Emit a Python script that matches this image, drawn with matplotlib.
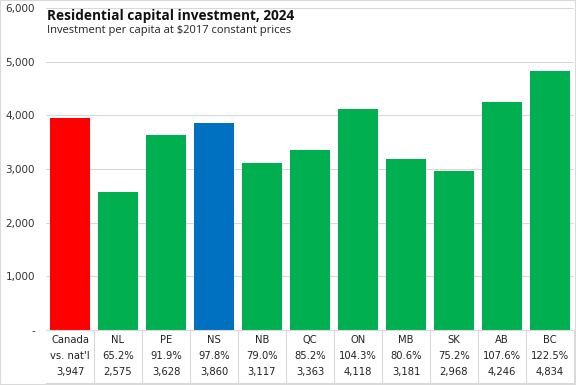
import matplotlib.pyplot as plt
from matplotlib.patches import Rectangle
from matplotlib.transforms import blended_transform_factory

regions = ["Canada", "NL", "PE", "NS", "NB", "QC", "ON", "MB", "SK", "AB", "BC"]
investment = [3947, 2575, 3628, 3860, 3117, 3363, 4118, 3181, 2968, 4246, 4834]
vs_national = ["vs. nat'l", "65.2%", "91.9%", "97.8%", "79.0%", "85.2%",
               "104.3%", "80.6%", "75.2%", "107.6%", "122.5%"]
yticks = [0, 1000, 2000, 3000, 4000, 5000, 6000]

RED = "#FF0000"
GREEN = "#00B050"
BLUE = "#0070C0"
GRID = "#D9D9D9"

colors = [GREEN] * len(regions)
colors[regions.index("Canada")] = RED
colors[regions.index("NS")] = BLUE

W, H = 576, 385
fig = plt.figure(figsize=(W / 100, H / 100), dpi=100)
ax = fig.add_axes([46 / W, 1 - 330 / H, 528 / W, 322 / H])

x = list(range(len(regions)))
ax.bar(x, investment, width=40 / 48, color=colors, zorder=2)

ax.set_xlim(-0.5, len(regions) - 0.5)
ax.set_ylim(0, 6000)
ax.set_yticks(yticks)
ax.set_yticklabels(["-" if v == 0 else f"{v:,}" for v in yticks],
                   fontsize=7.5, color="#333333", family="DejaVu Sans")
ax.tick_params(axis="y", length=0, pad=8)
ax.set_xticks([])
ax.grid(axis="y", color=GRID, linewidth=0.8, zorder=0)
for side in ["top", "right", "left"]:
    ax.spines[side].set_visible(False)
ax.spines["bottom"].set_color(GRID)
ax.spines["bottom"].set_linewidth(0.8)

# table under the bars
trans = blended_transform_factory(ax.transData, fig.transFigure)
rows_y = [1 - 340 / H, 1 - 356 / H, 1 - 372 / H]
values_txt = [f"{v:,}" for v in investment]
for i in x:
    for row, label in zip(rows_y, [regions[i], vs_national[i], values_txt[i]]):
        ax.text(i, row, label, transform=trans, ha="center", va="center",
                fontsize=7.2, color="#222222", family="DejaVu Sans")
for i in range(1, len(regions) + 1):
    ax.plot([i - 0.5, i - 0.5], [1 - 330 / H, 1 - 383 / H], transform=trans,
            color=GRID, linewidth=0.8, clip_on=False)
ax.plot([-0.5, len(regions) - 0.5], [1 - 383 / H] * 2, transform=trans,
        color=GRID, linewidth=0.8, clip_on=False)

fig.text(47 / W, 1 - 16 / H, "Residential capital investment, 2024",
         fontsize=9.8, fontweight="bold", color="#111111", va="center",
         family="Open Sans")
fig.text(47 / W, 1 - 31 / H, "Investment per capita at $2017 constant prices",
         fontsize=8, color="#222222", va="center", family="Open Sans")

fig.patches.append(Rectangle((0, 0), 1, 1, transform=fig.transFigure,
                             fill=False, edgecolor=GRID, linewidth=1.5))

fig.savefig("out.png", dpi=100)
